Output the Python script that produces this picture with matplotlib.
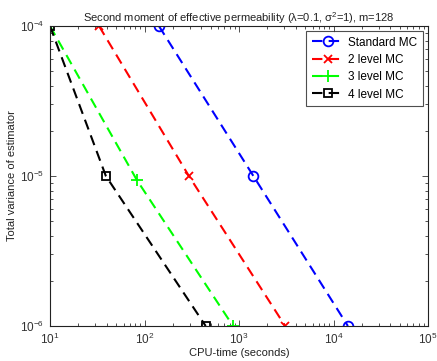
import matplotlib
matplotlib.use("Agg")
import matplotlib.pyplot as plt
from matplotlib.ticker import LogLocator, NullFormatter

plt.rcParams['font.family'] = ['Liberation Sans', 'DejaVu Sans']
plt.rcParams['mathtext.fontset'] = 'custom'
plt.rcParams['mathtext.rm'] = 'Liberation Sans'

variance = [1e-4, 1e-5, 1e-6]
std_time = [142, 1420, 14200]
lvl2_time = [33, 295, 3080]
lvl3_time = [10, 83, 865]
lvl3_var = [1e-4, 9.4e-6, 1e-6]
lvl4_time = [10, 39, 444]

labels = ['Standard MC', '2 level MC', '3 level MC', '4 level MC']
title = 'Second moment of effective permeability (\u03bb=0.1, \u03c3$^2$=1), m=128'

fig = plt.figure(figsize=(4.37, 3.61), dpi=100)
ax = fig.add_axes([50/437, 35/361, 378/437, 300/361])

lw = 1.5
ax.loglog(std_time, variance, '--o', color=(0, 0, 1), lw=lw, ms=7, mfc='none', mew=1.3, label=labels[0], dashes=(5, 3))
ax.loglog(lvl2_time, variance, '--x', color=(1, 0, 0), lw=lw, ms=6, mew=1.3, label=labels[1], dashes=(5, 3))
ax.loglog(lvl3_time, lvl3_var, '--+', color=(0, 1, 0), lw=lw, ms=8, mew=1.3, label=labels[2], dashes=(5, 3))
ax.loglog(lvl4_time, variance, '--s', color=(0, 0, 0), lw=lw, ms=6, mfc='none', mew=1.3, label=labels[3], dashes=(5, 3))

ax.set_xlim(10, 1e5)
ax.set_ylim(1e-6, 1e-4)
ax.xaxis.set_major_locator(LogLocator(base=10, numticks=10))
ax.yaxis.set_major_locator(LogLocator(base=10, numticks=10))
ax.xaxis.set_minor_locator(LogLocator(base=10, subs=range(2, 10), numticks=20))
ax.yaxis.set_minor_locator(LogLocator(base=10, subs=range(2, 10), numticks=20))
ax.xaxis.set_minor_formatter(NullFormatter())
ax.yaxis.set_minor_formatter(NullFormatter())

ax.tick_params(which='both', direction='in', top=True, right=True, labelsize=8.5, colors='#333333')
ax.tick_params(which='major', length=4, width=0.6, pad=4)
ax.tick_params(which='minor', length=2, width=0.6)
for s in ax.spines.values():
    s.set_linewidth(0.8)
    s.set_color('#222222')

ax.set_title(title, fontsize=8, pad=3, color='#222222')
ax.set_xlabel('CPU-time (seconds)', fontsize=8, labelpad=1, color='#222222')
ax.set_ylabel('Total variance of estimator', fontsize=8, labelpad=2, color='#222222')

leg = ax.legend(loc='upper right', fontsize=8.5, frameon=True, fancybox=False,
                edgecolor='#222222', handlelength=2.8, borderpad=0.45,
                labelspacing=0.45, handletextpad=0.3, borderaxespad=0.45)
leg.get_frame().set_linewidth(0.8)

fig.savefig('out.png', dpi=100)
